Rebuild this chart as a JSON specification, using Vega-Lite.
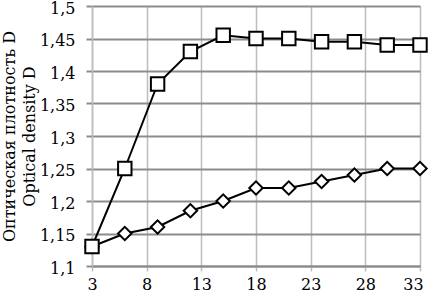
{
  "$schema": "https://vega.github.io/schema/vega-lite/v6.json",
  "width": 328,
  "height": 260,
  "autosize": {"type": "none"},
  "padding": {"left": 92, "top": 6, "right": 9, "bottom": 28},
  "background": "white",
  "config": {
    "font": "DejaVu Serif",
    "view": {"stroke": null},
    "axis": {"labelFont": "DejaVu Serif", "titleFont": "DejaVu Serif", "labelFontSize": 16, "titleFontSize": 16, "labelColor": "#000", "titleColor": "#000", "titleFontWeight": "normal"}
  },
  "data": {"values": [
    {"x": 3, "y": 1.13, "s": "A"},
    {"x": 6, "y": 1.25, "s": "A"},
    {"x": 9, "y": 1.38, "s": "A"},
    {"x": 12, "y": 1.43, "s": "A"},
    {"x": 15, "y": 1.455, "s": "A"},
    {"x": 18, "y": 1.45, "s": "A"},
    {"x": 21, "y": 1.45, "s": "A"},
    {"x": 24, "y": 1.445, "s": "A"},
    {"x": 27, "y": 1.445, "s": "A"},
    {"x": 30, "y": 1.44, "s": "A"},
    {"x": 33, "y": 1.44, "s": "A"},
    {"x": 3, "y": 1.13, "s": "B"},
    {"x": 6, "y": 1.15, "s": "B"},
    {"x": 9, "y": 1.16, "s": "B"},
    {"x": 12, "y": 1.185, "s": "B"},
    {"x": 15, "y": 1.2, "s": "B"},
    {"x": 18, "y": 1.22, "s": "B"},
    {"x": 21, "y": 1.22, "s": "B"},
    {"x": 24, "y": 1.23, "s": "B"},
    {"x": 27, "y": 1.24, "s": "B"},
    {"x": 30, "y": 1.25, "s": "B"},
    {"x": 33, "y": 1.25, "s": "B"}
  ]},
  "encoding": {
    "x": {"field": "x", "type": "quantitative", "scale": {"domain": [3, 33], "nice": false, "zero": false},
      "axis": {"values": [3, 8, 13, 18, 23, 28, 33], "title": null, "grid": true, "gridColor": "#bdbdbd", "gridWidth": 1.5, "gridOpacity": 1, "domain": true, "domainColor": "#8c8c8c", "domainWidth": 2, "ticks": true, "tickColor": "#bdbdbd", "tickSize": 5, "tickWidth": 1.5, "labelPadding": 5, "labelFlush": false,
        "labelOffset": {"condition": {"test": "datum.value === 33", "value": -7}, "value": 0}}},
    "y": {"field": "y", "type": "quantitative", "scale": {"domain": [1.1, 1.5], "nice": false, "zero": false},
      "axis": {"values": [1.1, 1.15, 1.2, 1.25, 1.3, 1.35, 1.4, 1.45, 1.5], "labelExpr": "replace(format(datum.value, '.2~f'), '.', ',')", "title": ["Оптическая плотность D", "Optical density D"], "titleLineHeight": 20, "titlePadding": 2, "grid": true, "gridColor": "#8c8c8c", "gridWidth": 2, "gridOpacity": 1, "domain": true, "domainColor": "#bdbdbd", "domainWidth": 1.5, "ticks": true, "tickColor": "#8c8c8c", "tickSize": 6, "tickWidth": 2, "labelPadding": 11, "labelOffset": 2, "labelFlush": false}}
  },
  "layer": [
    {"mark": {"type": "line", "color": "#000", "strokeWidth": 2}, "encoding": {"detail": {"field": "s"}}},
    {"transform": [{"filter": "datum.s === 'B'"}], "mark": {"type": "point", "shape": "diamond", "size": 180, "filled": true, "fill": "white", "stroke": "#000", "strokeWidth": 2, "opacity": 1}},
    {"transform": [{"filter": "datum.s === 'A'"}], "mark": {"type": "point", "shape": "square", "size": 180, "filled": true, "fill": "white", "stroke": "#000", "strokeWidth": 2, "opacity": 1}}
  ]
}
